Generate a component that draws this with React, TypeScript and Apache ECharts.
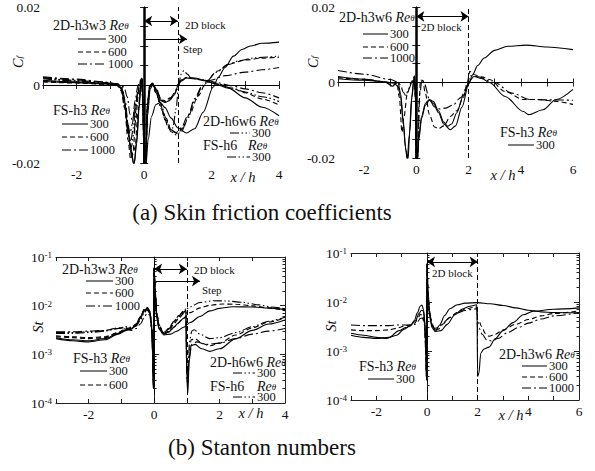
import React, { useEffect, useRef } from "react";
import * as echarts from "echarts";

type P = [number, number][];

const SERIF = "Liberation Serif, DejaVu Serif, Times New Roman, serif";
const INK = "#111";

// line dash patterns
const SOLID: any = "solid";
const DASH = [5, 3];
const DASHDOT = [9, 3, 2, 3];
const DASHDOTDOT = [9, 2.5, 1.5, 2.5, 1.5, 2.5];

// tick labels
const xLabelsA = [-2, 0, 2, 4];
const xLabelsB = [-2, 0, 2, 4, 6];
const cfLabels = [-0.02, 0, 0.02];
const stDecades = [-4, -3, -2, -1];

// ---------- (a) left: Cf, x/h in [-3, 4] ----------
const cfA_2Dh3w3_300: P = [
  [-3, 0.0009], [-2, 0.0006], [-1.2, 0.0003], [-0.85, 0.0001], [-0.7, -0.0006], [-0.6, -0.003],
  [-0.5, -0.009], [-0.4, -0.016], [-0.3, -0.0205], [-0.22, -0.015], [-0.15, -0.006], [-0.1, -0.0005],
  [-0.06, 0.0015], [-0.03, -0.006], [0, -0.021], [0.05, -0.021], [0.1, -0.008], [0.18, -0.001],
  [0.27, 0.0002], [0.37, -0.0015], [0.5, -0.004], [0.62, -0.0045], [0.75, -0.004], [0.9, -0.0025],
  [1.0, -0.0003], [1.1, 0.001], [1.25, 0.0018], [1.5, 0.0016], [1.8, 0.0011], [2.1, 0.0003],
  [2.5, -0.0008], [3.0, -0.0033], [3.5, -0.0057], [4.0, -0.0079],
];
const cfA_2Dh3w3_600: P = [
  [-3, 0.0011], [-2, 0.0007], [-1.2, 0.0003], [-0.8, 0.0], [-0.65, -0.0015], [-0.55, -0.006],
  [-0.45, -0.013], [-0.35, -0.018], [-0.27, -0.016], [-0.18, -0.007], [-0.11, -0.001], [-0.06, 0.0015],
  [-0.03, -0.006], [0, -0.021], [0.05, -0.02], [0.1, -0.006], [0.17, -0.0005], [0.25, 0.0003],
  [0.35, -0.001], [0.5, -0.0038], [0.62, -0.0042], [0.78, -0.0035], [0.92, -0.002], [1.0, 0],
  [1.1, 0.0012], [1.25, 0.0019], [1.5, 0.0017], [1.8, 0.0012], [2.1, 0.0005], [2.6, -0.0008],
  [3.0, -0.002], [3.5, -0.0036], [4, -0.0051],
];
const cfA_2Dh3w3_1000: P = [
  [-3, 0.0019], [-2, 0.0013], [-1.2, 0.0007], [-0.8, 0.0003], [-0.6, -0.0005], [-0.5, -0.003],
  [-0.42, -0.0075], [-0.35, -0.009], [-0.27, -0.006], [-0.18, -0.0015], [-0.1, 0.0005], [-0.06, 0.0015],
  [-0.03, -0.005], [0, -0.021], [0.05, -0.017], [0.1, -0.005], [0.17, -0.0003], [0.25, 0.0004],
  [0.35, -0.0008], [0.5, -0.0035], [0.62, -0.004], [0.78, -0.0033], [0.92, -0.0018], [1.0, 0.0002],
  [1.1, 0.0013], [1.25, 0.0019], [1.5, 0.0018], [1.8, 0.0013], [2.1, 0.0007], [2.6, -0.0002],
  [3.0, -0.001], [3.5, -0.002], [4, -0.0033],
];
const cfA_FSh3_300: P = [
  [-3, 0.0012], [-2, 0.0008], [-1.2, 0.0004], [-0.8, 0.0001], [-0.68, -0.001], [-0.58, -0.005],
  [-0.48, -0.012], [-0.38, -0.018], [-0.3, -0.0205], [-0.22, -0.014], [-0.15, -0.005], [-0.1, 0.0],
  [-0.07, 0.0018], [-0.04, -0.004], [0, -0.021], [0.05, -0.021], [0.12, -0.014], [0.22, -0.008],
  [0.35, -0.005], [0.48, -0.0045], [0.62, -0.0058], [0.8, -0.0085], [1.0, -0.011], [1.25, -0.0123],
  [1.5, -0.0112], [1.75, -0.007], [2.05, -0.0005], [2.2, 0.002], [2.4, 0.0045], [2.65, 0.0074],
  [2.9, 0.0091], [3.15, 0.01], [3.5, 0.0107], [4, 0.011],
];
const cfA_FSh3_600: P = [
  [-3, 0.0008], [-2, 0.0005], [-1.2, 0.0002], [-0.8, -0.0001], [-0.68, -0.0015], [-0.58, -0.006],
  [-0.48, -0.014], [-0.4, -0.019], [-0.33, -0.017], [-0.25, -0.009], [-0.17, -0.002], [-0.1, 0.001],
  [-0.07, 0.0016], [-0.04, -0.004], [0, -0.021], [0.05, -0.019], [0.1, -0.006], [0.17, -0.0005],
  [0.25, 0.0], [0.35, -0.002], [0.5, -0.0055], [0.65, -0.009], [0.82, -0.0118], [0.98, -0.0125],
  [1.15, -0.011], [1.35, -0.0075], [1.6, -0.0028], [1.85, 0.0008], [2.15, 0.0035], [2.5, 0.0053],
  [3, 0.0064], [3.5, 0.0069], [4, 0.0071],
];
const cfA_FSh3_1000: P = [
  [-3, 0.0021], [-2, 0.0015], [-1.2, 0.0008], [-0.8, 0.0003], [-0.66, -0.0005], [-0.56, -0.004],
  [-0.48, -0.01], [-0.42, -0.0125], [-0.35, -0.01], [-0.27, -0.004], [-0.18, 0.0], [-0.1, 0.0012],
  [-0.07, 0.0016], [-0.04, -0.003], [0, -0.021], [0.05, -0.016], [0.1, -0.004], [0.17, 0.0],
  [0.25, 0.0004], [0.35, -0.0015], [0.5, -0.005], [0.65, -0.0085], [0.8, -0.0115], [0.95, -0.0122],
  [1.1, -0.011], [1.3, -0.0078], [1.5, -0.0035], [1.7, -0.0005], [2.0, 0.0013], [2.4, 0.0024],
  [3, 0.0033], [3.5, 0.0039], [4, 0.0045],
];
const cfA_2Dh6w6_300: P = [
  [-3, 0.0016], [-2, 0.001], [-1.2, 0.0005], [-0.8, 0.0002], [-0.68, -0.0008], [-0.57, -0.005],
  [-0.47, -0.012], [-0.4, -0.0145], [-0.32, -0.011], [-0.24, -0.004], [-0.15, 0.0], [-0.08, 0.0017],
  [-0.04, -0.004], [0, -0.021], [0.05, -0.018], [0.1, -0.005], [0.17, 0.0], [0.25, 0.0005],
  [0.35, -0.0015], [0.48, -0.0045], [0.6, -0.0085], [0.72, -0.011], [0.85, -0.011], [0.95, -0.006],
  [1.02, 0.0], [1.1, 0.0028], [1.18, 0.0037], [1.28, 0.0028], [1.4, 0.0017], [1.7, 0.0013],
  [2.1, 0.0004], [2.6, -0.0008], [3.0, -0.0018], [3.5, -0.003], [4, -0.0042],
];
const cfA_FSh6_300: P = [
  [-3, 0.0018], [-2, 0.0012], [-1.2, 0.0006], [-0.8, 0.0002], [-0.66, -0.0008], [-0.56, -0.006],
  [-0.47, -0.013], [-0.38, -0.016], [-0.3, -0.012], [-0.22, -0.004], [-0.13, 0.0005], [-0.08, 0.0016],
  [-0.04, -0.004], [0, -0.021], [0.05, -0.017], [0.1, -0.005], [0.17, -0.0002], [0.25, 0.0003],
  [0.35, -0.002], [0.5, -0.006], [0.65, -0.0095], [0.8, -0.012], [0.95, -0.0128], [1.1, -0.012],
  [1.3, -0.0085], [1.5, -0.004], [1.75, 0.0], [2.15, 0.0033], [2.5, 0.0053], [2.8, 0.0062],
  [3.3, 0.007], [4, 0.0074],
];

// ---------- (a) right: Cf, x/h in [-3, 6] ----------
const cfB_2Dh3w6_300: P = [
  [-3, 0.0016], [-2, 0.0009], [-1.2, 0.0001], [-0.9, -0.001], [-0.8, -0.0003], [-0.7, 0.0],
  [-0.6, -0.003], [-0.5, -0.01], [-0.42, -0.017], [-0.35, -0.0205], [-0.27, -0.014], [-0.18, -0.004],
  [-0.08, 0.0015], [-0.03, -0.005], [0, -0.021], [0.04, -0.021], [0.1, -0.014], [0.2, -0.009],
  [0.35, -0.0055], [0.5, -0.0045], [0.65, -0.005], [0.85, -0.0075], [1.05, -0.0105], [1.2, -0.0116],
  [1.35, -0.011], [1.55, -0.008], [1.8, -0.0035], [2.0, 0.0], [2.2, 0.0016], [2.5, 0.0011],
  [2.8, 0.0], [3.4, -0.0037], [4.1, -0.0077], [4.3, -0.0085], [4.85, -0.0072], [5.35, -0.0045],
  [6, -0.0018],
];
const cfB_2Dh3w6_600: P = [
  [-3, 0.0013], [-2, 0.0008], [-1.2, 0.0002], [-0.9, -0.0008], [-0.75, 0.0], [-0.65, -0.004],
  [-0.55, -0.0132], [-0.47, -0.009], [-0.35, -0.003], [-0.2, 0.0], [-0.08, 0.0015], [-0.03, -0.005],
  [0, -0.021], [0.05, -0.02], [0.1, -0.006], [0.16, 0.0006], [0.24, 0.0006], [0.35, -0.003],
  [0.5, -0.0085], [0.7, -0.0118], [0.85, -0.0122], [1.05, -0.0115], [1.3, -0.009], [1.55, -0.0075],
  [1.8, -0.004], [1.95, 0.0], [2.05, 0.003], [2.15, 0.0022], [2.5, 0.0015], [2.8, 0.0008],
  [3.4, -0.0024], [4.1, -0.0045], [4.7, -0.0045], [5.35, -0.005], [6, -0.0058],
];
const cfB_2Dh3w6_1000: P = [
  [-3, 0.0032], [-2, 0.0022], [-1, 0.0008], [-0.7, 0.0001], [-0.6, -0.0008], [-0.5, -0.0026],
  [-0.4, -0.0035], [-0.3, -0.0018], [-0.15, 0.0003], [-0.08, 0.0015], [-0.03, -0.004], [0, -0.021],
  [0.06, -0.018], [0.13, -0.003], [0.22, 0.0008], [0.32, -0.0005], [0.5, -0.0045], [0.7, -0.0065],
  [0.9, -0.007], [1.1, -0.0068], [1.4, -0.006], [1.7, -0.004], [1.95, -0.001], [2.05, 0.0018],
  [2.3, 0.0016], [3.0, 0.0], [3.65, -0.0028], [4.35, -0.0045], [5, -0.0046], [6, -0.0047],
];
const cfB_FSh3_300: P = [
  [-3, 0.001], [-2, 0.0006], [-1.2, 0.0002], [-0.85, -0.0002], [-0.7, -0.001], [-0.6, -0.004],
  [-0.5, -0.011], [-0.4, -0.018], [-0.32, -0.0205], [-0.25, -0.013], [-0.17, -0.004], [-0.1, 0.0005],
  [-0.06, 0.0018], [-0.03, -0.004], [0, -0.021], [0.03, -0.021], [0.1, -0.015], [0.2, -0.0095],
  [0.35, -0.006], [0.5, -0.0047], [0.65, -0.0055], [0.85, -0.008], [1.05, -0.011], [1.3, -0.0125],
  [1.5, -0.0115], [1.75, -0.0065], [2.0, -0.0005], [2.15, 0.002], [2.35, 0.0045], [2.6, 0.0065],
  [3.0, 0.0085], [3.5, 0.0096], [4.2, 0.0099], [5, 0.0094], [6, 0.0087],
];

// ---------- (b) left: St, x/h in [-3, 4] ----------
const stA_2Dh3w3_300: P = [
  [-3, 0.0022], [-2.5, 0.002], [-2, 0.0019], [-1.5, 0.0021], [-1.1, 0.0027], [-0.85, 0.0032],
  [-0.7, 0.0034], [-0.55, 0.0042], [-0.42, 0.006], [-0.3, 0.0082], [-0.2, 0.009], [-0.13, 0.0075],
  [-0.07, 0.0035], [-0.04, 0.0008], [-0.02, 0.0002], [0, 0.06], [0.03, 0.018], [0.08, 0.006],
  [0.15, 0.0035], [0.3, 0.0026], [0.45, 0.0029], [0.6, 0.0036], [0.75, 0.0045], [0.9, 0.0055],
  [0.97, 0.006], [1.0, 0.0003], [1.03, 0.00016], [1.07, 0.0007], [1.13, 0.0015], [1.25, 0.0016],
  [1.45, 0.0013], [1.7, 0.00115], [2.0, 0.0013], [2.5, 0.0021], [3, 0.0031], [3.5, 0.0042], [4, 0.0051],
];
const stA_2Dh3w3_600: P = [
  [-3, 0.0024], [-2.5, 0.0023], [-2, 0.0022], [-1.5, 0.0023], [-1.1, 0.0028], [-0.85, 0.0033],
  [-0.7, 0.0033], [-0.55, 0.004], [-0.42, 0.0058], [-0.3, 0.0085], [-0.22, 0.0093], [-0.14, 0.008],
  [-0.07, 0.004], [-0.04, 0.001], [-0.02, 0.0002], [0, 0.06], [0.03, 0.018], [0.08, 0.0065],
  [0.15, 0.0038], [0.28, 0.0026], [0.45, 0.003], [0.6, 0.0042], [0.75, 0.0055], [0.9, 0.0068],
  [0.97, 0.0072], [1.0, 0.0003], [1.03, 0.00025], [1.07, 0.001], [1.13, 0.002], [1.25, 0.0021],
  [1.45, 0.0017], [1.7, 0.0015], [2.0, 0.0017], [2.5, 0.0025], [3, 0.0035], [3.5, 0.0046], [4, 0.0057],
];
const stA_2Dh3w3_1000: P = [
  [-3, 0.0029], [-2.5, 0.0029], [-2, 0.003], [-1.5, 0.0031], [-1.1, 0.0035], [-0.85, 0.0033],
  [-0.7, 0.0031], [-0.55, 0.0034], [-0.42, 0.0042], [-0.3, 0.0058], [-0.22, 0.007], [-0.14, 0.0065],
  [-0.07, 0.0035], [-0.04, 0.001], [-0.02, 0.0002], [0, 0.06], [0.03, 0.02], [0.08, 0.007],
  [0.15, 0.004], [0.28, 0.0028], [0.45, 0.0034], [0.6, 0.0048], [0.75, 0.0062], [0.9, 0.0075],
  [0.97, 0.008], [1.0, 0.0005], [1.04, 0.0004], [1.08, 0.0009], [1.15, 0.0016], [1.3, 0.0018],
  [1.6, 0.0016], [2.0, 0.0017], [2.5, 0.0021], [3, 0.0026], [3.5, 0.003], [4, 0.0034],
];
const stA_FSh3_300: P = [
  [-3, 0.0021], [-2.5, 0.0019], [-2, 0.0018], [-1.5, 0.002], [-1.1, 0.0026], [-0.85, 0.0031],
  [-0.7, 0.0033], [-0.55, 0.004], [-0.42, 0.0055], [-0.3, 0.0078], [-0.2, 0.0088], [-0.12, 0.007],
  [-0.07, 0.003], [-0.04, 0.0007], [-0.02, 0.0002], [0, 0.06], [0.03, 0.016], [0.08, 0.0055],
  [0.15, 0.0033], [0.3, 0.0025], [0.5, 0.0026], [0.7, 0.003], [0.9, 0.0036], [1.1, 0.0045],
  [1.4, 0.006], [1.7, 0.0078], [2.0, 0.0088], [2.4, 0.0095], [3, 0.0094], [3.5, 0.0089], [4, 0.0083],
];
const stA_FSh3_600: P = [
  [-3, 0.0023], [-2.5, 0.0022], [-2, 0.0021], [-1.5, 0.0022], [-1.1, 0.0028], [-0.85, 0.0034],
  [-0.7, 0.0035], [-0.55, 0.0042], [-0.42, 0.0058], [-0.3, 0.0082], [-0.22, 0.009], [-0.13, 0.0076],
  [-0.07, 0.0035], [-0.04, 0.0009], [-0.02, 0.0002], [0, 0.06], [0.03, 0.017], [0.08, 0.006],
  [0.15, 0.0035], [0.28, 0.0026], [0.45, 0.0029], [0.65, 0.0038], [0.85, 0.0052], [1.1, 0.0072],
  [1.4, 0.009], [1.7, 0.0102], [2.1, 0.0108], [2.5, 0.0107], [3, 0.0099], [3.5, 0.009], [4, 0.0079],
];
const stA_2Dh6w6_300: P = [
  [-3, 0.0027], [-2.5, 0.0027], [-2, 0.0028], [-1.5, 0.003], [-1.1, 0.0034], [-0.85, 0.0037],
  [-0.7, 0.0036], [-0.55, 0.004], [-0.42, 0.0055], [-0.3, 0.0075], [-0.22, 0.0085], [-0.13, 0.0072],
  [-0.07, 0.0033], [-0.04, 0.0009], [-0.02, 0.0002], [0, 0.06], [0.03, 0.02], [0.08, 0.007],
  [0.15, 0.004], [0.28, 0.0027], [0.45, 0.0033], [0.6, 0.0046], [0.75, 0.0062], [0.9, 0.0078],
  [0.97, 0.0085], [1.0, 0.0004], [1.04, 0.0006], [1.08, 0.0018], [1.15, 0.003], [1.22, 0.0032],
  [1.4, 0.0026], [1.7, 0.0021], [2.0, 0.0022], [2.5, 0.0028], [3, 0.0037], [3.5, 0.0048], [4, 0.0058],
];
const stA_FSh6_300: P = [
  [-3, 0.0028], [-2.5, 0.0028], [-2, 0.0029], [-1.5, 0.0031], [-1.1, 0.0034], [-0.85, 0.0036],
  [-0.7, 0.0035], [-0.55, 0.0038], [-0.42, 0.005], [-0.3, 0.0072], [-0.22, 0.0082], [-0.13, 0.007],
  [-0.07, 0.0032], [-0.04, 0.0009], [-0.02, 0.0002], [0, 0.06], [0.03, 0.02], [0.08, 0.0068],
  [0.15, 0.004], [0.28, 0.0028], [0.45, 0.0034], [0.65, 0.0048], [0.85, 0.0068], [1.1, 0.0095],
  [1.4, 0.0116], [1.8, 0.0126], [2.2, 0.0125], [2.7, 0.0117], [3.2, 0.0104], [3.6, 0.0094], [4, 0.0086],
];

// ---------- (b) right: St, x/h in [-3, 6] ----------
const stB_FSh3_300: P = [
  [-3, 0.0021], [-2.5, 0.0019], [-2, 0.0018], [-1.5, 0.0019], [-1.1, 0.0026], [-0.85, 0.003],
  [-0.65, 0.0033], [-0.5, 0.0042], [-0.38, 0.006], [-0.27, 0.0082], [-0.2, 0.0087], [-0.13, 0.0068],
  [-0.07, 0.003], [-0.04, 0.0007], [-0.02, 0.00025], [0, 0.06], [0.04, 0.015], [0.1, 0.005],
  [0.2, 0.003], [0.32, 0.0025], [0.5, 0.0034], [0.7, 0.0053], [0.9, 0.0073], [1.2, 0.0088],
  [1.5, 0.0095], [2.0, 0.0097], [2.5, 0.0092], [3, 0.0085], [3.5, 0.0076], [4, 0.0068],
  [4.5, 0.0063], [5, 0.0061], [6, 0.006],
];
const stB_2Dh3w6_300: P = [
  [-3, 0.0023], [-2.5, 0.0021], [-2, 0.0019], [-1.6, 0.0018], [-1.2, 0.0021], [-0.9, 0.0028],
  [-0.65, 0.0033], [-0.45, 0.0042], [-0.32, 0.0058], [-0.22, 0.0068], [-0.15, 0.0066], [-0.09, 0.0042],
  [-0.05, 0.0012], [-0.02, 0.0003], [0, 0.06], [0.04, 0.016], [0.1, 0.006], [0.2, 0.0033],
  [0.35, 0.0025], [0.55, 0.0026], [0.8, 0.0035], [1.1, 0.0055], [1.4, 0.0072], [1.7, 0.0082],
  [1.97, 0.0088], [2.0, 0.0003], [2.05, 0.00035], [2.12, 0.0009], [2.25, 0.0011], [2.45, 0.0012],
  [2.7, 0.0018], [3.0, 0.0026], [3.4, 0.0038], [3.8, 0.0055], [4.2, 0.0065], [5, 0.0071], [6, 0.0076],
];
const stB_2Dh3w6_600: P = [
  [-3, 0.0027], [-2.5, 0.0026], [-2, 0.0026], [-1.5, 0.0027], [-1.1, 0.003], [-0.85, 0.0033],
  [-0.65, 0.0034], [-0.48, 0.0037], [-0.36, 0.0046], [-0.27, 0.0056], [-0.18, 0.0054], [-0.1, 0.0038],
  [-0.05, 0.001], [-0.02, 0.0003], [0, 0.06], [0.04, 0.016], [0.1, 0.006], [0.2, 0.0034],
  [0.3, 0.0027], [0.45, 0.0028], [0.65, 0.0036], [0.9, 0.0048], [1.2, 0.0062], [1.5, 0.0071],
  [1.8, 0.0077], [1.97, 0.0079], [2.0, 0.0035], [2.05, 0.0041], [2.15, 0.0032], [2.3, 0.0023],
  [2.45, 0.002], [2.7, 0.0022], [3.0, 0.0027], [3.5, 0.0035], [4, 0.0044], [4.5, 0.0052],
  [5, 0.0058], [6, 0.0066],
];
const stB_2Dh3w6_1000: P = [
  [-3, 0.0034], [-2.5, 0.0033], [-2, 0.0033], [-1.5, 0.0033], [-1.1, 0.0034], [-0.85, 0.0034],
  [-0.65, 0.0034], [-0.48, 0.0035], [-0.36, 0.004], [-0.27, 0.0046], [-0.18, 0.0047], [-0.1, 0.0035],
  [-0.05, 0.001], [-0.02, 0.0003], [0, 0.06], [0.04, 0.017], [0.1, 0.0065], [0.2, 0.0036],
  [0.3, 0.0029], [0.45, 0.003], [0.65, 0.0038], [0.9, 0.0049], [1.2, 0.006], [1.5, 0.0067],
  [1.8, 0.0071], [1.97, 0.0073], [2.0, 0.0025], [2.06, 0.0029], [2.18, 0.0022], [2.35, 0.0017],
  [2.55, 0.0016], [2.8, 0.0018], [3.2, 0.0024], [3.6, 0.003], [4, 0.0037], [4.5, 0.0045],
  [5, 0.0052], [6, 0.0061],
];

const minorLogs: number[] = [];
for (let d = -4; d < -1; d++) for (let k = 2; k <= 9; k++) minorLogs.push(d + Math.log10(k));

const grids = [
  { left: 43, top: 7, width: 236, height: 156 },
  { left: 338, top: 7, width: 235, height: 151 },
  { left: 56, top: 257, width: 229, height: 146 },
  { left: 351, top: 253, width: 228, height: 147 },
];

const axisLine = { show: true, lineStyle: { color: "#222", width: 1 } };
const tickIn = (len: number, custom?: number[]) => ({
  show: true, inside: true, length: len, lineStyle: { color: "#222", width: 1 },
  ...(custom ? { customValues: custom } : {}),
});
const lbl = { fontFamily: SERIF, fontSize: 13.5, color: INK };

function xAxes(g: number, min: number, max: number, labels: number[]) {
  return [
    {
      type: "value", gridIndex: g, min, max, interval: 1, position: "bottom",
      axisLine, axisTick: tickIn(4), splitLine: { show: false },
      axisLabel: { ...lbl, margin: 4, formatter: (v: number) => (labels.some((l) => Math.abs(l - v) < 1e-9) ? String(Math.round(v)) : "") },
    },
    {
      type: "value", gridIndex: g, min, max, interval: 1, position: "top",
      axisLine, axisTick: tickIn(4), splitLine: { show: false }, axisLabel: { show: false },
    },
  ];
}

function cfYAxes(g: number) {
  return [
    {
      type: "value", gridIndex: g, min: -0.02, max: 0.02, interval: 0.005, position: "left",
      axisLine, axisTick: tickIn(4), splitLine: { show: false },
      axisLabel: {
        ...lbl, margin: 3,
        formatter: (v: number) => {
          const hit = cfLabels.find((l) => Math.abs(l - v) < 1e-9);
          if (hit === undefined) return "";
          return hit === 0 ? "0" : hit.toFixed(2);
        },
      },
    },
    {
      type: "value", gridIndex: g, min: -0.02, max: 0.02, interval: 0.005, position: "right",
      axisLine, axisTick: tickIn(4), splitLine: { show: false }, axisLabel: { show: false },
    },
  ];
}

function stYAxes(g: number) {
  return [
    {
      type: "log", logBase: 10, gridIndex: g, min: 1e-4, max: 1e-1, position: "left",
      axisLine, axisTick: tickIn(5), splitLine: { show: false }, minorTick: { show: false },
      axisLabel: {
        margin: 4,
        formatter: (v: number) => {
          const e = Math.round(Math.log10(v));
          return stDecades.includes(e) ? `{a|10}{b|${e}}` : "";
        },
        rich: {
          a: { fontFamily: SERIF, fontSize: 13.5, color: INK, lineHeight: 13, verticalAlign: "middle" },
          b: { fontFamily: SERIF, fontSize: 9, color: INK, lineHeight: 9, padding: [0, 0, 7, 0], verticalAlign: "top" },
        },
      },
    },
    {
      type: "value", gridIndex: g, min: -4, max: -1, position: "left",
      axisLine: { show: false }, axisTick: tickIn(2.5, minorLogs), splitLine: { show: false }, axisLabel: { show: false },
    },
    {
      type: "value", gridIndex: g, min: -4, max: -1, position: "right",
      axisLine, axisTick: tickIn(5, stDecades), splitLine: { show: false }, axisLabel: { show: false },
    },
    {
      type: "value", gridIndex: g, min: -4, max: -1, position: "right",
      axisLine: { show: false }, axisTick: tickIn(2.5, minorLogs), splitLine: { show: false }, axisLabel: { show: false },
    },
  ];
}

function curve(name: string, data: P, xi: number, yi: number, dash: any, extra: any = {}) {
  return {
    type: "line", name, data, xAxisIndex: xi, yAxisIndex: yi,
    showSymbol: false, symbol: "none", smooth: 0.3, smoothMonotone: "x",
    clip: true, silent: true, animation: false,
    lineStyle: { color: "#000", width: 1.1, type: dash },
    ...extra,
  };
}

const vline = (x: number, width: number, type: any) => ({ xAxis: x, lineStyle: { color: "#000", width, type } });
const hline = (y: number) => ({ yAxis: y, lineStyle: { color: "#000", width: 1, type: "solid" } });
const arrow = (x0: number, x1: number, y: number, both: boolean) => [
  { coord: [x0, y], symbol: both ? "arrow" : "none", symbolSize: 8 },
  { coord: [x1, y], symbol: "arrow", symbolSize: 8, lineStyle: { color: "#000", width: 1.2, type: "solid" } },
];
const mark = (data: any[]) => ({
  markLine: {
    silent: true, symbol: "none", animation: false, label: { show: false },
    lineStyle: { color: "#000", width: 1, type: "solid" }, data,
  },
});

// ------ graphic helpers (legend keys, annotation texts) ------
const richBase = {
  n: { fontFamily: SERIF, fontSize: 14, fill: INK, lineHeight: 11, verticalAlign: "middle" },
  i: { fontFamily: SERIF, fontSize: 14, fontStyle: "italic", fill: INK, lineHeight: 11, verticalAlign: "middle" },
  s: { fontFamily: SERIF, fontSize: 9, fontStyle: "italic", fill: INK, lineHeight: 8, padding: [5, 0, 0, 0], verticalAlign: "bottom" },
};
function txt(x: number, y: number, text: string, opts: any = {}) {
  const size = opts.size || 13;
  const style: any = {
    text, fill: INK, fontFamily: SERIF, fontSize: size,
    fontStyle: opts.italic ? "italic" : "normal",
    lineHeight: opts.lh || size,
    textAlign: opts.align || "left", textVerticalAlign: "middle",
    align: opts.align || "left", verticalAlign: "middle",
  };
  if (text.includes("{")) style.rich = richBase;
  return { type: "text", x, y, silent: true, z: 100, rotation: opts.rotation || 0, style };
}
const title = (x: number, y: number, name: string) => txt(x, y, `{n|${name} }{i|Re}{s|θ}`);
const reOnly = (x: number, y: number) => txt(x, y, `{i|Re}{s|θ}`);
function key(x1: number, x2: number, y: number, dash: any, label: string) {
  return [
    {
      type: "line", silent: true, z: 100,
      shape: { x1, y1: y, x2, y2: y },
      style: { stroke: "#000", lineWidth: 1, lineDash: dash === "solid" ? null : dash },
    },
    txt(x2 + 2, y, label, { size: 12.5, lh: 10 }),
  ];
}

export default function App() {
  const ref = useRef<HTMLDivElement>(null);
  useEffect(() => {
    if (!ref.current) return;
    const chart = echarts.init(ref.current, undefined, { renderer: "svg" });

    const xAxis = [
      ...xAxes(0, -3, 4, xLabelsA),
      ...xAxes(1, -3, 6, xLabelsB),
      ...xAxes(2, -3, 4, xLabelsA),
      ...xAxes(3, -3, 6, xLabelsB),
    ];
    const yAxis = [...cfYAxes(0), ...cfYAxes(1), ...stYAxes(2), ...stYAxes(3)];

    const series: any[] = [
      // panel (a) left
      curve("2D-h3w3 300", cfA_2Dh3w3_300, 0, 0, SOLID, mark([
        vline(0, 2.5, "solid"), vline(1, 1, [5, 3]), hline(0),
        arrow(0, 1, 0.0164, true), arrow(0, 1.27, 0.0118, false),
      ])),
      curve("2D-h3w3 600", cfA_2Dh3w3_600, 0, 0, DASH),
      curve("2D-h3w3 1000", cfA_2Dh3w3_1000, 0, 0, DASHDOT),
      curve("FS-h3 300", cfA_FSh3_300, 0, 0, SOLID),
      curve("FS-h3 600", cfA_FSh3_600, 0, 0, DASH),
      curve("FS-h3 1000", cfA_FSh3_1000, 0, 0, DASHDOT),
      curve("2D-h6w6 300", cfA_2Dh6w6_300, 0, 0, DASHDOTDOT),
      curve("FS-h6 300", cfA_FSh6_300, 0, 0, DASHDOTDOT),
      // panel (a) right
      curve("2D-h3w6 300", cfB_2Dh3w6_300, 2, 2, SOLID, mark([
        vline(0, 2.5, "solid"), vline(2, 1, [5, 3]), hline(0),
        arrow(0, 2, 0.0175, true),
      ])),
      curve("2D-h3w6 600", cfB_2Dh3w6_600, 2, 2, DASH),
      curve("2D-h3w6 1000", cfB_2Dh3w6_1000, 2, 2, DASHDOT),
      curve("FS-h3 300", cfB_FSh3_300, 2, 2, SOLID),
      // panel (b) left
      curve("2D-h3w3 300", stA_2Dh3w3_300, 4, 4, SOLID, mark([
        vline(0, 1, [5, 3]), vline(1, 1, [5, 3]),
        arrow(0, 1, 0.057, true), arrow(0, 1.4, 0.032, false),
      ])),
      curve("2D-h3w3 600", stA_2Dh3w3_600, 4, 4, DASH),
      curve("2D-h3w3 1000", stA_2Dh3w3_1000, 4, 4, DASHDOT),
      curve("FS-h3 300", stA_FSh3_300, 4, 4, SOLID),
      curve("FS-h3 600", stA_FSh3_600, 4, 4, DASH),
      curve("2D-h6w6 300", stA_2Dh6w6_300, 4, 4, DASHDOTDOT),
      curve("FS-h6 300", stA_FSh6_300, 4, 4, DASHDOTDOT),
      // panel (b) right
      curve("FS-h3 300", stB_FSh3_300, 6, 8, SOLID, mark([
        vline(0, 1, [5, 3]), vline(2, 1, [5, 3]),
        arrow(0, 2, 0.066, true),
      ])),
      curve("2D-h3w6 300", stB_2Dh3w6_300, 6, 8, SOLID),
      curve("2D-h3w6 600", stB_2Dh3w6_600, 6, 8, DASH),
      curve("2D-h3w6 1000", stB_2Dh3w6_1000, 6, 8, DASHDOT),
    ];

    const graphic: any[] = [
      // panel (a) left
      title(53, 25, "2D-h3w3"),
      ...key(78, 106, 39, "solid", "300"),
      ...key(78, 106, 52, DASH, "600"),
      ...key(78, 106, 64, DASHDOT, "1000"),
      title(53, 110, "FS-h3"),
      ...key(62, 88, 124, "solid", "300"),
      ...key(62, 88, 137, DASH, "600"),
      ...key(62, 88, 150, DASHDOT, "1000"),
      title(203, 121, "2D-h6w6"),
      ...key(230, 250, 133, DASHDOTDOT, "300"),
      txt(203, 145, "FS-h6", { size: 14, lh: 11 }),
      reOnly(248, 145),
      ...key(227, 250, 157, DASHDOTDOT, "300"),
      txt(185, 25, "2D block", { size: 11 }),
      txt(183, 49, "Step", { size: 11 }),
      txt(18, 62, "{i|C}{s|f}", { rotation: Math.PI / 2, align: "center" }),
      txt(243, 177, "x / h", { italic: true, align: "center", size: 14.5 }),
      // panel (a) right
      title(339, 17, "2D-h3w6"),
      ...key(363, 388, 34, "solid", "300"),
      ...key(363, 388, 47, DASH, "600"),
      ...key(363, 388, 58, DASHDOT, "1000"),
      title(500, 132, "FS-h3"),
      ...key(508, 534, 145, "solid", "300"),
      txt(421, 27, "2D block", { size: 11 }),
      txt(313, 62, "{i|C}{s|f}", { rotation: Math.PI / 2, align: "center" }),
      txt(503, 175, "x / h", { italic: true, align: "center", size: 14.5 }),
      // panel (b) left
      title(62, 269, "2D-h3w3"),
      ...key(86, 113, 281, "solid", "300"),
      ...key(86, 113, 293, DASH, "600"),
      ...key(86, 113, 306, DASHDOT, "1000"),
      title(73, 358, "FS-h3"),
      ...key(80, 107, 371, "solid", "300"),
      ...key(80, 107, 385, DASH, "600"),
      title(210, 362, "2D-h6w6"),
      ...key(233, 255, 373, DASHDOTDOT, "300"),
      txt(210, 386, "FS-h6", { size: 14, lh: 11 }),
      reOnly(257, 386),
      ...key(233, 255, 397, DASHDOTDOT, "300"),
      txt(194, 270, "2D block", { size: 11 }),
      txt(202, 290, "Step", { size: 11 }),
      txt(38, 327, "St", { rotation: Math.PI / 2, align: "center", italic: true, size: 14.5 }),
      txt(251, 413, "x / h", { italic: true, align: "center", size: 14.5 }),
      // panel (b) right
      title(359, 366, "FS-h3"),
      ...key(368, 394, 379, "solid", "300"),
      title(499, 354, "2D-h3w6"),
      ...key(522, 547, 366, "solid", "300"),
      ...key(522, 547, 377, DASH, "600"),
      ...key(522, 547, 388, DASHDOT, "1000"),
      txt(432, 273, "2D block", { size: 11 }),
      txt(331, 326, "St", { rotation: Math.PI / 2, align: "center", italic: true, size: 14.5 }),
      txt(511, 415, "x / h", { italic: true, align: "center", size: 14.5 }),
      // captions
      txt(262, 212, "(a) Skin friction coefficients", { align: "center", size: 23 }),
      txt(262, 447, "(b) Stanton numbers", { align: "center", size: 23 }),
    ];

    chart.setOption({
      animation: false,
      backgroundColor: "#fff",
      grid: grids.map((g) => ({ ...g, containLabel: false })),
      xAxis,
      yAxis,
      series,
      graphic,
    });
    return () => chart.dispose();
  }, []);

  return (
    <div
      ref={ref}
      style={{ position: "absolute", left: 0, top: 0, width: 595, height: 471, background: "#fff" }}
    />
  );
}
